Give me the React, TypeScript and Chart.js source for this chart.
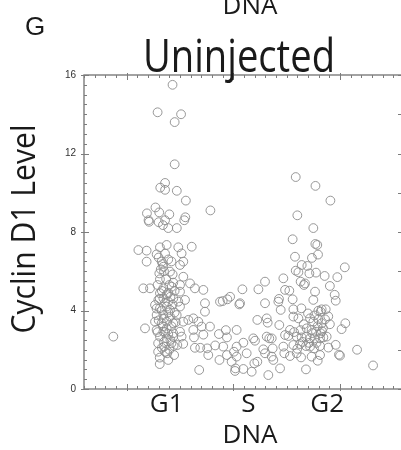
import { useEffect, useRef } from "react";
import { Chart, registerables } from "chart.js";

Chart.register(...registerables);

// ---- Data (DNA content in arbitrary units, Cyclin D1 level) ----
// G1 high outliers
const g1HighDna = [14.3, 12.9, 15.1, 14.5, 14.5, 13.6, 13.15, 13.6, 14.7, 15.55, 17.85, 12.7, 13.05, 11.9, 14.0, 12.05, 12.1, 13.0, 13.6, 15.5, 15.4, 13.4, 13.9, 14.7];
const g1HighCyc = [15.5, 14.1, 14.0, 13.6, 11.45, 10.5, 10.26, 10.15, 10.1, 9.6, 9.1, 9.25, 9.0, 8.95, 8.9, 8.6, 8.52, 8.5, 8.6, 8.75, 8.6, 8.35, 8.2, 8.2];
// G2 high and right tail
const g2HighDna = [25.85, 27.7, 29.1, 26.0, 27.5, 30.45, 29.75, 29.05, 29.5, 29.6, 29.05, 30.5, 30.15, 29.6, 29.9, 30.0, 31.6, 33.1];
const g2HighCyc = [10.8, 10.35, 9.6, 8.85, 8.2, 6.2, 5.7, 5.25, 4.8, 4.5, 3.3, 3.35, 3.05, 2.25, 1.75, 1.7, 2.0, 1.2];
// G1 low / early S
const g1LowDna = [8.75, 19.0, 19.44, 19.7, 19.3, 19.4, 18.65, 12.95, 13.5, 14.2, 14.75, 15.3, 16.4, 16.9, 17.55, 18.3, 19.05, 12.95, 13.8, 14.45, 17.65, 18.7, 19.4, 13.1, 13.9, 16.8, 20.2];
const g1LowCyc = [2.67, 4.48, 4.57, 4.7, 3.0, 2.63, 2.8, 2.33, 2.16, 2.33, 2.24, 2.3, 2.1, 2.1, 2.07, 2.22, 2.16, 1.9, 1.82, 1.73, 1.73, 1.48, 1.73, 1.27, 1.48, 0.97, 1.05];
// G1 dense core
const g1CoreDna = [11.1, 11.87, 13.12, 13.75, 14.84, 16.1, 15.15, 11.87, 13.28, 15.31, 15.0, 13.44, 13.06, 14.06, 15.31, 14.37, 15.94, 13.44, 14.22, 11.56, 12.19, 16.4, 17.19, 15.0, 13.12, 13.75, 12.97, 13.44, 13.9, 14.37, 14.84, 15.47, 12.66, 13.12, 13.75, 14.06, 15.0, 12.81, 13.44, 14.06, 14.69, 12.66, 13.28, 13.75, 14.37, 15.31, 15.78, 16.25, 16.72, 17.34, 17.34, 18.75, 11.72, 12.81, 13.44, 13.75, 14.37, 15.0, 16.25, 17.03, 17.81, 13.12, 13.75, 14.37, 12.81, 13.37, 14.31, 13.12, 15.0, 15.15, 16.31, 17.19,
  13.6, 13.9, 13.2, 13.7, 14.0, 13.3, 13.9, 13.6, 14.3, 13.3, 13.9, 13.5, 14.2, 13.4, 13.9, 13.5, 14.1, 13.3, 14.0, 13.6,
  13.0, 14.2, 13.5, 12.9, 14.5, 13.1, 14.1, 12.8, 14.5, 13.0, 14.6, 12.9, 13.6, 14.4, 13.1];
const g1CoreCyc = [7.08, 7.05, 7.22, 7.34, 7.22, 7.25, 6.91, 6.49, 6.49, 6.49, 6.32, 6.23, 5.89, 5.98, 5.72, 5.42, 5.38, 5.13, 5.21, 5.13, 5.13, 5.13, 5.05, 4.96, 4.88, 4.79, 4.54, 4.62, 4.45, 4.62, 4.45, 4.54, 4.28, 4.11, 4.2, 4.03, 4.2, 3.77, 3.77, 3.69, 3.77, 3.43, 3.35, 3.43, 3.35, 3.43, 3.52, 3.6, 3.43, 3.94, 4.37, 4.45, 3.09, 3.01, 2.92, 3.09, 2.84, 2.92, 3.01, 3.18, 3.18, 2.67, 2.58, 2.67, 6.86, 6.37, 5.84, 5.59, 5.3, 2.67, 2.63, 2.77,
  6.9, 6.6, 6.1, 5.6, 5.3, 5.0, 4.9, 4.4, 4.3, 4.0, 3.9, 3.6, 3.2, 3.2, 2.8, 2.4, 2.5, 2.1, 2.0, 1.9,
  6.7, 6.5, 6.0, 5.3, 5.0, 4.6, 4.7, 4.1, 3.9, 3.5, 3.4, 2.9, 2.9, 2.2, 1.6];
// S / G2 body
const sG2Dna = [25.56, 27.69, 27.87, 27.94, 27.37, 25.78, 26.41, 26.94, 25.85, 26.1, 27.13, 27.75, 28.56, 24.69, 22.97, 26.31, 26.72, 26.62, 20.85, 22.35, 24.85, 25.25, 27.66, 20.63, 20.56, 22.97, 24.28, 24.22, 25.56, 27.5, 24.44, 25.63, 26.38, 27.97, 28.28, 28.19, 28.66, 22.25, 23.13, 23.22, 25.63, 26.1, 27.19, 27.5, 27.97, 28.28, 20.31, 24.31, 25.31, 26.87, 27.34, 27.75, 28.19, 21.87, 22.03, 23.13, 23.37, 23.6, 24.85, 25.16, 25.94, 26.41, 26.87, 27.19, 27.6, 28.13, 28.44, 28.75, 20.94, 20.31, 21.25, 20.06, 22.81, 23.69, 24.69, 25.63, 26.25, 26.81, 27.19, 27.56, 28.13, 28.91, 21.97, 22.25, 20.31, 19.84, 20.94, 23.28, 22.97, 23.6, 23.75, 24.38, 24.78, 25.31, 25.94, 26.35, 26.81, 27.34, 27.91, 28.13, 20.16, 21.72,
  26.6, 27.0, 27.6, 28.4, 26.3, 27.9, 27.4, 28.6, 26.5, 27.8, 28.3, 25.7, 28.9, 27.1, 26.0];
const sG2Cyc = [7.63, 7.39, 7.34, 6.85, 6.68, 6.74, 6.32, 6.27, 6.03, 5.95, 5.89, 5.93, 5.76, 5.64, 5.47, 5.47, 5.38, 5.3, 5.08, 5.08, 5.05, 5.01, 4.96, 4.37, 4.31, 4.37, 4.59, 4.45, 4.57, 4.54, 4.03, 4.06, 4.11, 3.99, 4.06, 3.94, 4.06, 3.52, 3.6, 3.38, 3.69, 3.6, 3.6, 3.43, 3.55, 3.35, 3.01, 3.26, 3.01, 3.09, 3.01, 2.92, 2.84, 2.58, 2.46, 2.67, 2.58, 2.58, 2.75, 2.7, 2.67, 2.63, 2.67, 2.58, 2.58, 2.58, 2.63, 2.67, 2.36, 2.16, 1.82, 1.9, 2.02, 2.07, 2.16, 2.24, 2.29, 2.19, 2.16, 2.07, 2.19, 2.11, 1.31, 1.39, 1.65, 1.39, 1.02, 0.71, 1.82, 1.65, 1.48, 1.05, 1.82, 1.68, 1.82, 1.61, 1.0, 1.65, 1.44, 1.73, 0.92, 0.88,
  3.3, 3.85, 3.75, 3.1, 3.0, 3.2, 2.85, 3.55, 2.4, 2.35, 2.95, 2.9, 3.7, 2.35, 2.05];

const dnaValues = [...g1HighDna, ...g2HighDna, ...g1LowDna, ...g1CoreDna, ...sG2Dna];
const cyclinValues = [...g1HighCyc, ...g2HighCyc, ...g1LowCyc, ...g1CoreCyc, ...sG2Cyc];

// ---- Axes ----
const X_MIN = 6;
const X_MAX = 36;
const xMinorStep = 1;
const xMajorTicks = [10, 20, 30];
const phaseLabels = ["G1", "S", "G2"];
const phasePositions = [13.75, 21.4, 28.8];
const Y_MIN = 0;
const Y_MAX = 16;
const yTickStep = 4;
const yMinorStep = 0.5;

const panelLetter = "G";
const prevPanelLabel = "DNA";
const titleText = "Uninjected";
const yTitleText = "Cyclin D1 Level";
const xTitleText = "DNA";

const AXIS_COLOR = "#7c7c7c";
const TEXT_COLOR = "#1a1a1a";

const framePlugin = {
  id: "frame",
  afterDatasetsDraw(chart: any) {
    const { ctx, chartArea: a, scales } = chart;
    const x = scales.x;
    const y = scales.y;
    ctx.save();
    ctx.strokeStyle = AXIS_COLOR;
    ctx.lineWidth = 1.4;
    ctx.strokeRect(a.left, a.top, a.right - a.left, a.bottom - a.top);
    ctx.lineWidth = 1;
    ctx.beginPath();
    for (let v = X_MIN; v <= X_MAX + 1e-9; v += xMinorStep) {
      const px = Math.round(x.getPixelForValue(v)) + 0.5;
      const major = xMajorTicks.includes(v);
      const inner = major ? 5 : 3;
      const outer = major ? 2 : 0;
      ctx.moveTo(px, a.bottom + outer);
      ctx.lineTo(px, a.bottom - inner);
      ctx.moveTo(px, a.top - outer);
      ctx.lineTo(px, a.top + inner);
    }
    for (let v = Y_MIN; v <= Y_MAX + 1e-9; v += yMinorStep) {
      const py = Math.round(y.getPixelForValue(v)) + 0.5;
      const major = v % yTickStep === 0;
      const inner = major ? 5 : 3;
      const outer = major ? 3 : 0;
      ctx.moveTo(a.left - outer, py);
      ctx.lineTo(a.left + inner, py);
      const rlen = v % 2 === 0 ? 6 : 3;
      ctx.moveTo(a.right, py);
      ctx.lineTo(a.right - rlen, py);
    }
    ctx.stroke();
    ctx.restore();
  },
};

const textPlugin = {
  id: "texts",
  afterDraw(chart: any) {
    const { ctx, chartArea: a } = chart;
    ctx.save();
    ctx.fillStyle = TEXT_COLOR;
    ctx.textBaseline = "alphabetic";
    ctx.textAlign = "left";
    ctx.font = '26px "Liberation Sans"';
    ctx.fillText(panelLetter, 25, 35);
    ctx.textAlign = "center";
    ctx.font = '26px "Open Sans"';
    ctx.fillText(prevPanelLabel, 250, 14);
    ctx.font = '45px "Open Sans"';
    ctx.fillText(titleText, 239, 72, 192);
    ctx.font = '26px "Open Sans"';
    ctx.fillText(xTitleText, 250, 443);
    ctx.translate(35, (a.top + a.bottom) / 2 - 3);
    ctx.rotate(-Math.PI / 2);
    ctx.font = '32px "Open Sans"';
    ctx.fillText(yTitleText, 0, 0, 209);
    ctx.restore();
  },
};

export default function App() {
  const canvasRef = useRef<HTMLCanvasElement | null>(null);

  useEffect(() => {
    if (!canvasRef.current) return;
    const points = dnaValues.map((v, i) => ({ x: v, y: cyclinValues[i] }));
    const chart = new Chart(canvasRef.current, {
      type: "scatter",
      data: {
        datasets: [
          {
            data: points,
            pointStyle: "circle",
            pointRadius: 4.4,
            pointHoverRadius: 4.4,
            borderWidth: 0.9,
            borderColor: "#8c8c8c",
            backgroundColor: "rgba(0,0,0,0)",
          },
        ],
      },
      options: {
        animation: false,
        responsive: false,
        devicePixelRatio: 1,
        layout: { padding: { left: 0, top: 75, right: 6, bottom: 0 } },
        plugins: {
          legend: { display: false },
          tooltip: { enabled: false },
          title: { display: false },
        },
        scales: {
          x: {
            type: "linear",
            min: X_MIN,
            max: X_MAX,
            grid: { display: false, drawTicks: false },
            border: { display: false },
            afterBuildTicks: (axis: any) => {
              axis.ticks = phasePositions.map((value) => ({ value }));
            },
            afterFit: (axis: any) => {
              axis.height = 61;
            },
            ticks: {
              autoSkip: false,
              maxRotation: 0,
              minRotation: 0,
              padding: 0,
              color: TEXT_COLOR,
              font: { family: "Open Sans", size: 26 },
              callback: (_v: any, i: number) => phaseLabels[i],
            },
          },
          y: {
            type: "linear",
            min: Y_MIN,
            max: Y_MAX,
            grid: { display: false, drawTicks: false },
            border: { display: false },
            afterFit: (axis: any) => {
              axis.width = 84;
            },
            ticks: {
              stepSize: yTickStep,
              padding: 8,
              color: "#333333",
              font: { family: "Liberation Sans", size: 10 },
            },
          },
        },
      },
      plugins: [framePlugin, textPlugin],
    });
    return () => chart.destroy();
  }, []);

  return (
    <div
      style={{
        position: "absolute",
        left: 0,
        top: 0,
        width: 401,
        height: 450,
        overflow: "hidden",
        background: "#ffffff",
      }}
    >
      <canvas ref={canvasRef} width={410} height={450} style={{ display: "block" }} />
    </div>
  );
}
